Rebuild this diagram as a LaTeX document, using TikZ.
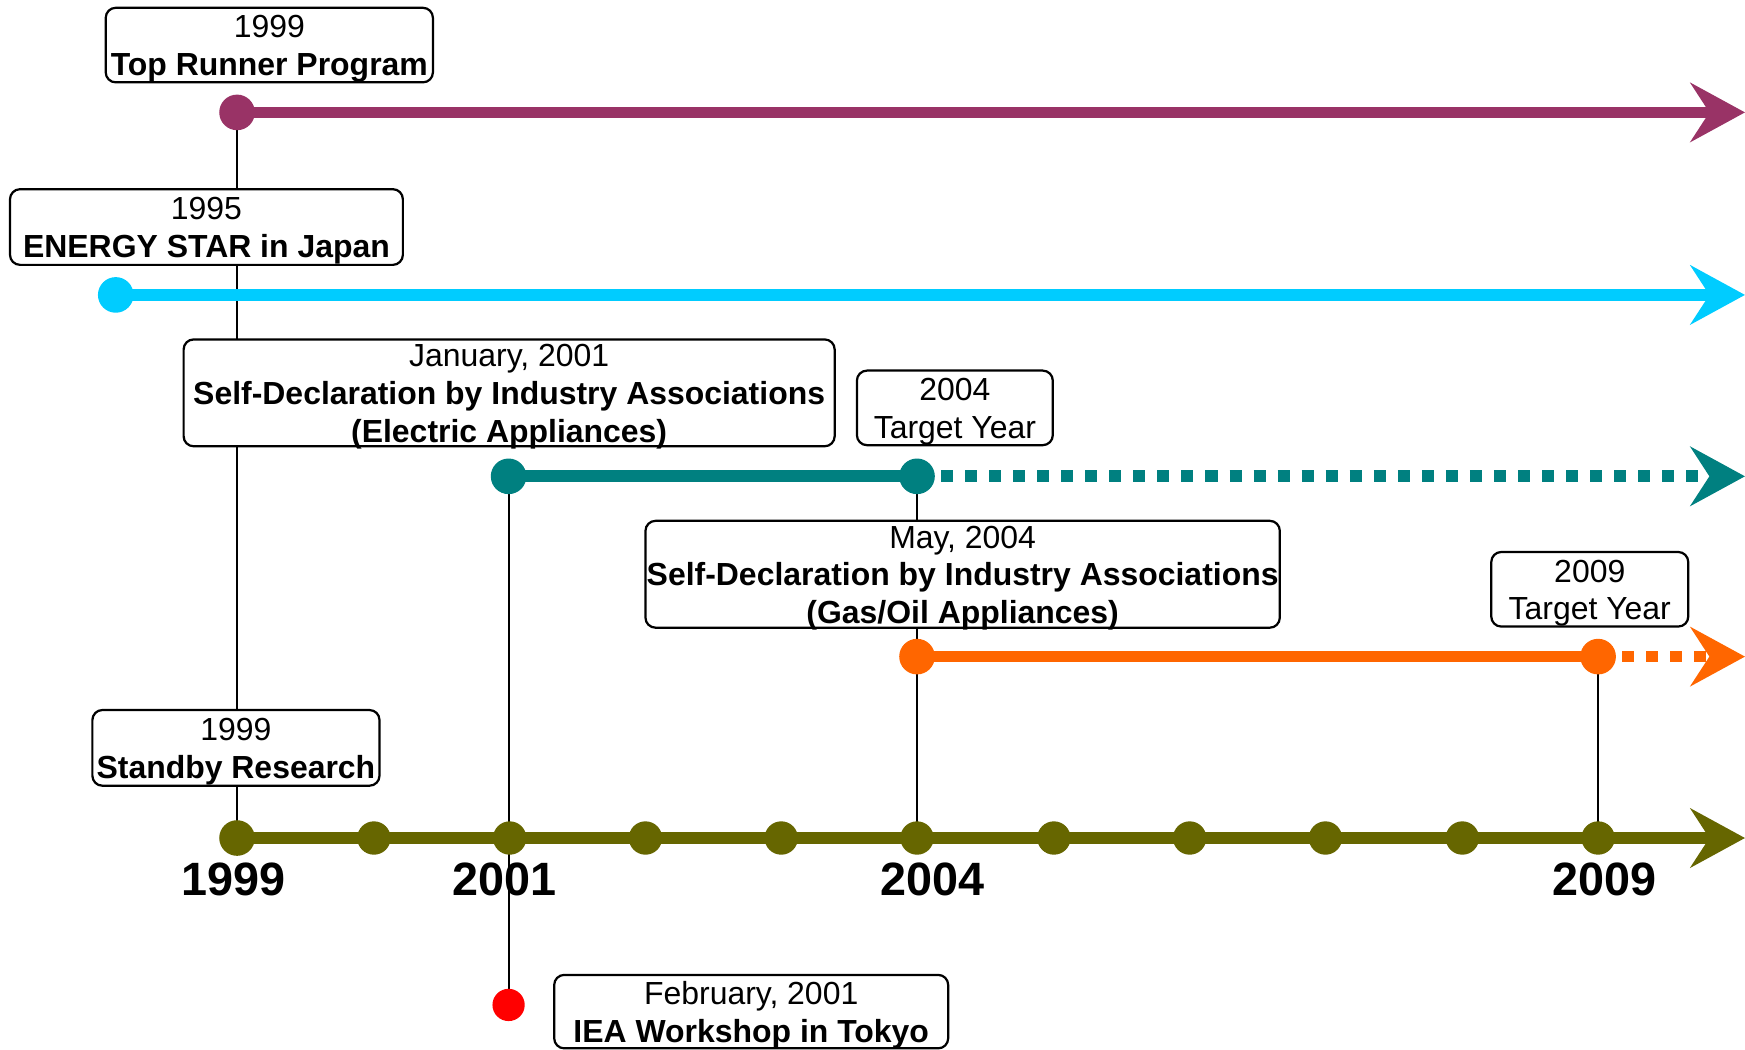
\documentclass[tikz,border=0pt]{standalone}
\usepackage{fontspec}
\setmainfont{Liberation Sans}
\usetikzlibrary{arrows.meta}
\definecolor{cpurple}{HTML}{993366}
\definecolor{ccyan}{HTML}{00CCFF}
\definecolor{cteal}{HTML}{008080}
\definecolor{corange}{HTML}{FF6600}
\definecolor{colive}{HTML}{666600}
\definecolor{cred}{HTML}{FF0000}
\tikzset{
  evbox/.style={draw=black, line width=2pt, rounded corners=9pt, fill=white,
    inner sep=0pt},
  evtext/.style={inner sep=0pt, align=center, font=\fontsize{28.7}{34}\selectfont},
  evdot/.style={circle, inner sep=0pt, minimum size=32pt},
  axdot/.style={circle, inner sep=0pt, minimum size=30pt, fill=colive},
  tline/.style={line width=10.5pt},
  tarrow/.style={tline, -{Stealth[length=49pt,width=53pt,inset=17pt]}},
  dotext/.style={dash pattern=on 10.8pt off 10.8pt},
  vline/.style={line width=1.8pt, draw=black},
  yearlab/.style={font=\fontsize{42}{42}\selectfont\bfseries, inner sep=0pt}
}
\begin{document}
\begin{tikzpicture}[x=1pt,y=-1pt]
\useasboundingbox (0,0) rectangle (1568,943);

% positions
\coordinate (P1) at (213,101);
\coordinate (P2) at (1568,101);
\coordinate (C1) at (104,265);
\coordinate (C2) at (1568,265);
\coordinate (T1) at (457,428);
\coordinate (T2) at (824,428);
\coordinate (T3) at (1568,428);
\coordinate (O1) at (824,590);
\coordinate (O2) at (1436,590);
\coordinate (O3) at (1568,590);
\coordinate (R1) at (457,903);
\coordinate (A0) at (213,753);
\coordinate (A5) at (824,753);
\coordinate (A10) at (1436,753);
\coordinate (AE) at (1568,753);

% vertical connectors
\draw[vline] (P1) -- (A0);
\draw[vline] (T1) -- (R1);
\draw[vline] (T2) -- (A5);
\draw[vline] (O2) -- (A10);

% boxes
\node[evbox, minimum width=294pt, minimum height=67pt] (tr) at (242,40.5) {};
\node[evtext] (trt) at ([yshift=-3.5pt]tr.center) {1999\\\textbf{Top Runner Program}};
\node[evbox, minimum width=353pt, minimum height=68pt] (es) at (185.5,204) {};
\node[evtext] (est) at ([yshift=-3.5pt]es.center) {1995\\\textbf{ENERGY STAR in Japan}};
\node[evbox, minimum width=585pt, minimum height=96pt] (jan) at (457.5,353) {};
\node[evtext] (jant) at ([yshift=-3.5pt]jan.center)
  {January, 2001\\\textbf{Self-Declaration by Industry Associations}\\\textbf{(Electric Appliances)}};
\node[evbox, minimum width=176pt, minimum height=67pt] (t04) at (858,366.5) {};
\node[evtext] (t04t) at ([yshift=-3.5pt]t04.center) {2004\\Target Year};
\node[evbox, minimum width=570pt, minimum height=96pt] (may) at (865,516) {};
\node[evtext] (mayt) at ([yshift=-3.5pt]may.center)
  {May, 2004\\\textbf{Self-Declaration by Industry Associations}\\\textbf{(Gas/Oil Appliances)}};
\node[evbox, minimum width=177pt, minimum height=67pt] (t09) at (1428.5,529.5) {};
\node[evtext] (t09t) at ([yshift=-3.5pt]t09.center) {2009\\Target Year};
\node[evbox, minimum width=258pt, minimum height=68pt] (sb) at (212,672) {};
\node[evtext] (sbt) at ([yshift=-3.5pt]sb.center) {1999\\\textbf{Standby Research}};
\node[evbox, minimum width=354pt, minimum height=66pt] (feb) at (675,909) {};
\node[evtext] (febt) at ([yshift=-3.5pt]feb.center) {February, 2001\\\textbf{IEA Workshop in Tokyo}};

% timelines
\draw[tarrow, cpurple] (P1) -- (P2);
\draw[tarrow, ccyan] (C1) -- (C2);
\draw[tline, cteal] (T1) -- (T2);
\draw[tarrow, cteal, dotext] (T2) -- (T3);
\draw[tline, corange] (O1) -- (O2);
\draw[tarrow, corange, dotext] (O2) -- (O3);
\draw[tarrow, colive] (A0) -- (AE);

% dots
\node[evdot, fill=cpurple] (p1) at (P1) {};
\node[evdot, fill=ccyan] (c1) at (C1) {};
\node[evdot, fill=cteal] (t1) at (T1) {};
\node[evdot, fill=cteal] (t2) at (T2) {};
\node[evdot, fill=corange] (o1) at (O1) {};
\node[evdot, fill=corange] (o2) at (O2) {};
\node[evdot, fill=cred, minimum size=29pt] (r1) at (R1) {};
\node[evdot, fill=colive] (a0) at (A0) {};
\foreach \i/\x in {1/336,2/458,3/580,4/702,5/824,6/947,7/1069,8/1191,9/1314,10/1436}
  \node[axdot] (ax\i) at (\x,753) {};

% year labels
\node[yearlab] (y1999) at (210,790) {1999};
\node[yearlab] (y2001) at (453,790) {2001};
\node[yearlab] (y2004) at (838,790) {2004};
\node[yearlab] (y2009) at (1442,790) {2009};
\end{tikzpicture}
\end{document}
